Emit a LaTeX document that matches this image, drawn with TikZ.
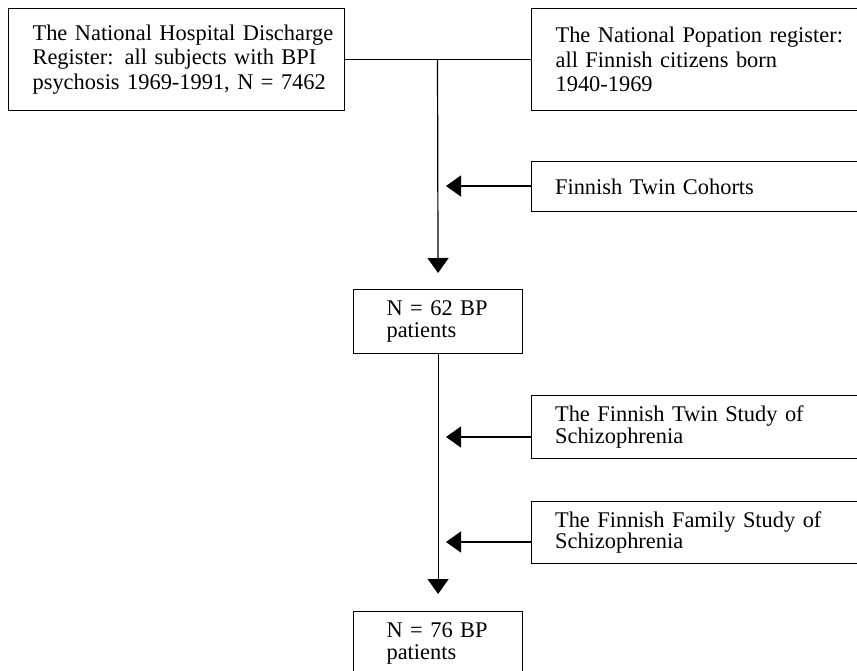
\documentclass[tikz,border=0pt]{standalone}
\usepackage{fontspec}
\setmainfont{Liberation Serif}
\usetikzlibrary{arrows.meta,calc}
\newcommand{\pad}[1]{\hspace*{#1}}
\tikzset{
  box/.style={draw, line width=1.2pt, rectangle, anchor=north west, inner sep=0pt, align=left},
  conn/.style={line width=1.2pt},
  arr/.style={line width=1.2pt, -{Triangle[length=15pt,width=21pt]}},
}
\begin{document}
\begin{tikzpicture}[x=1pt,y=-1pt]
\useasboundingbox (0,0) rectangle (857,671);
\clip (0,0) rectangle (857,671);
\node[box, text width=336pt, minimum height=102pt, font=\fontsize{22.4}{24.5}\selectfont] (hosp) at (8,8)
  {\pad{24pt}The National Hospital Discharge\\\pad{24pt}Register: all subjects with BPI\\\pad{24pt}psychosis 1969-1991, N = 7462};
\node[box, text width=360pt, minimum height=102pt, font=\fontsize{22.4}{24.5}\selectfont] (pop) at (530.5,8)
  {\pad{24.5pt}The National Popation register:\\\pad{24.5pt}all Finnish citizens born\\\pad{24.5pt}1940-1969};
\node[box, text width=360pt, minimum height=50pt, font=\fontsize{22.4}{21}\selectfont] (twc) at (530.5,161)
  {\pad{24pt}Finnish Twin Cohorts};
\node[box, text width=169pt, minimum height=64pt, font=\fontsize{22.4}{22}\selectfont] (n62) at (353,289)
  {\pad{33pt}N = 62 BP\\\pad{33pt}patients};
\node[box, text width=360pt, minimum height=63pt, font=\fontsize{22.4}{21.5}\selectfont] (tws) at (530.5,395)
  {\pad{24pt}The Finnish Twin Study of\\\pad{24pt}Schizophrenia};
\node[box, text width=360pt, minimum height=62pt, font=\fontsize{22.4}{21}\selectfont] (fam) at (530.5,501)
  {\pad{24pt}The Finnish Family Study of\\\pad{24pt}Schizophrenia};
\node[box, text width=169pt, minimum height=64pt, font=\fontsize{22.4}{22}\selectfont] (n76) at (353,611)
  {\pad{33pt}N = 76 BP\\\pad{33pt}patients};
\coordinate (j) at (437.5,59.5);
\coordinate (a1) at (446,186);
\coordinate (a2) at (446,437);
\coordinate (a3) at (446,542);
\draw[conn] (j -| hosp.east) -- (j -| pop.west);
\draw[arr, shorten >=16pt] (j) -- (n62.north);
\draw[arr, shorten >=17pt] (n62.south) -- (n76.north);
\draw[arr] (a1 -| twc.west) -- (a1);
\draw[arr] (a2 -| tws.west) -- (a2);
\draw[arr] (a3 -| fam.west) -- (a3);
\end{tikzpicture}
\end{document}
